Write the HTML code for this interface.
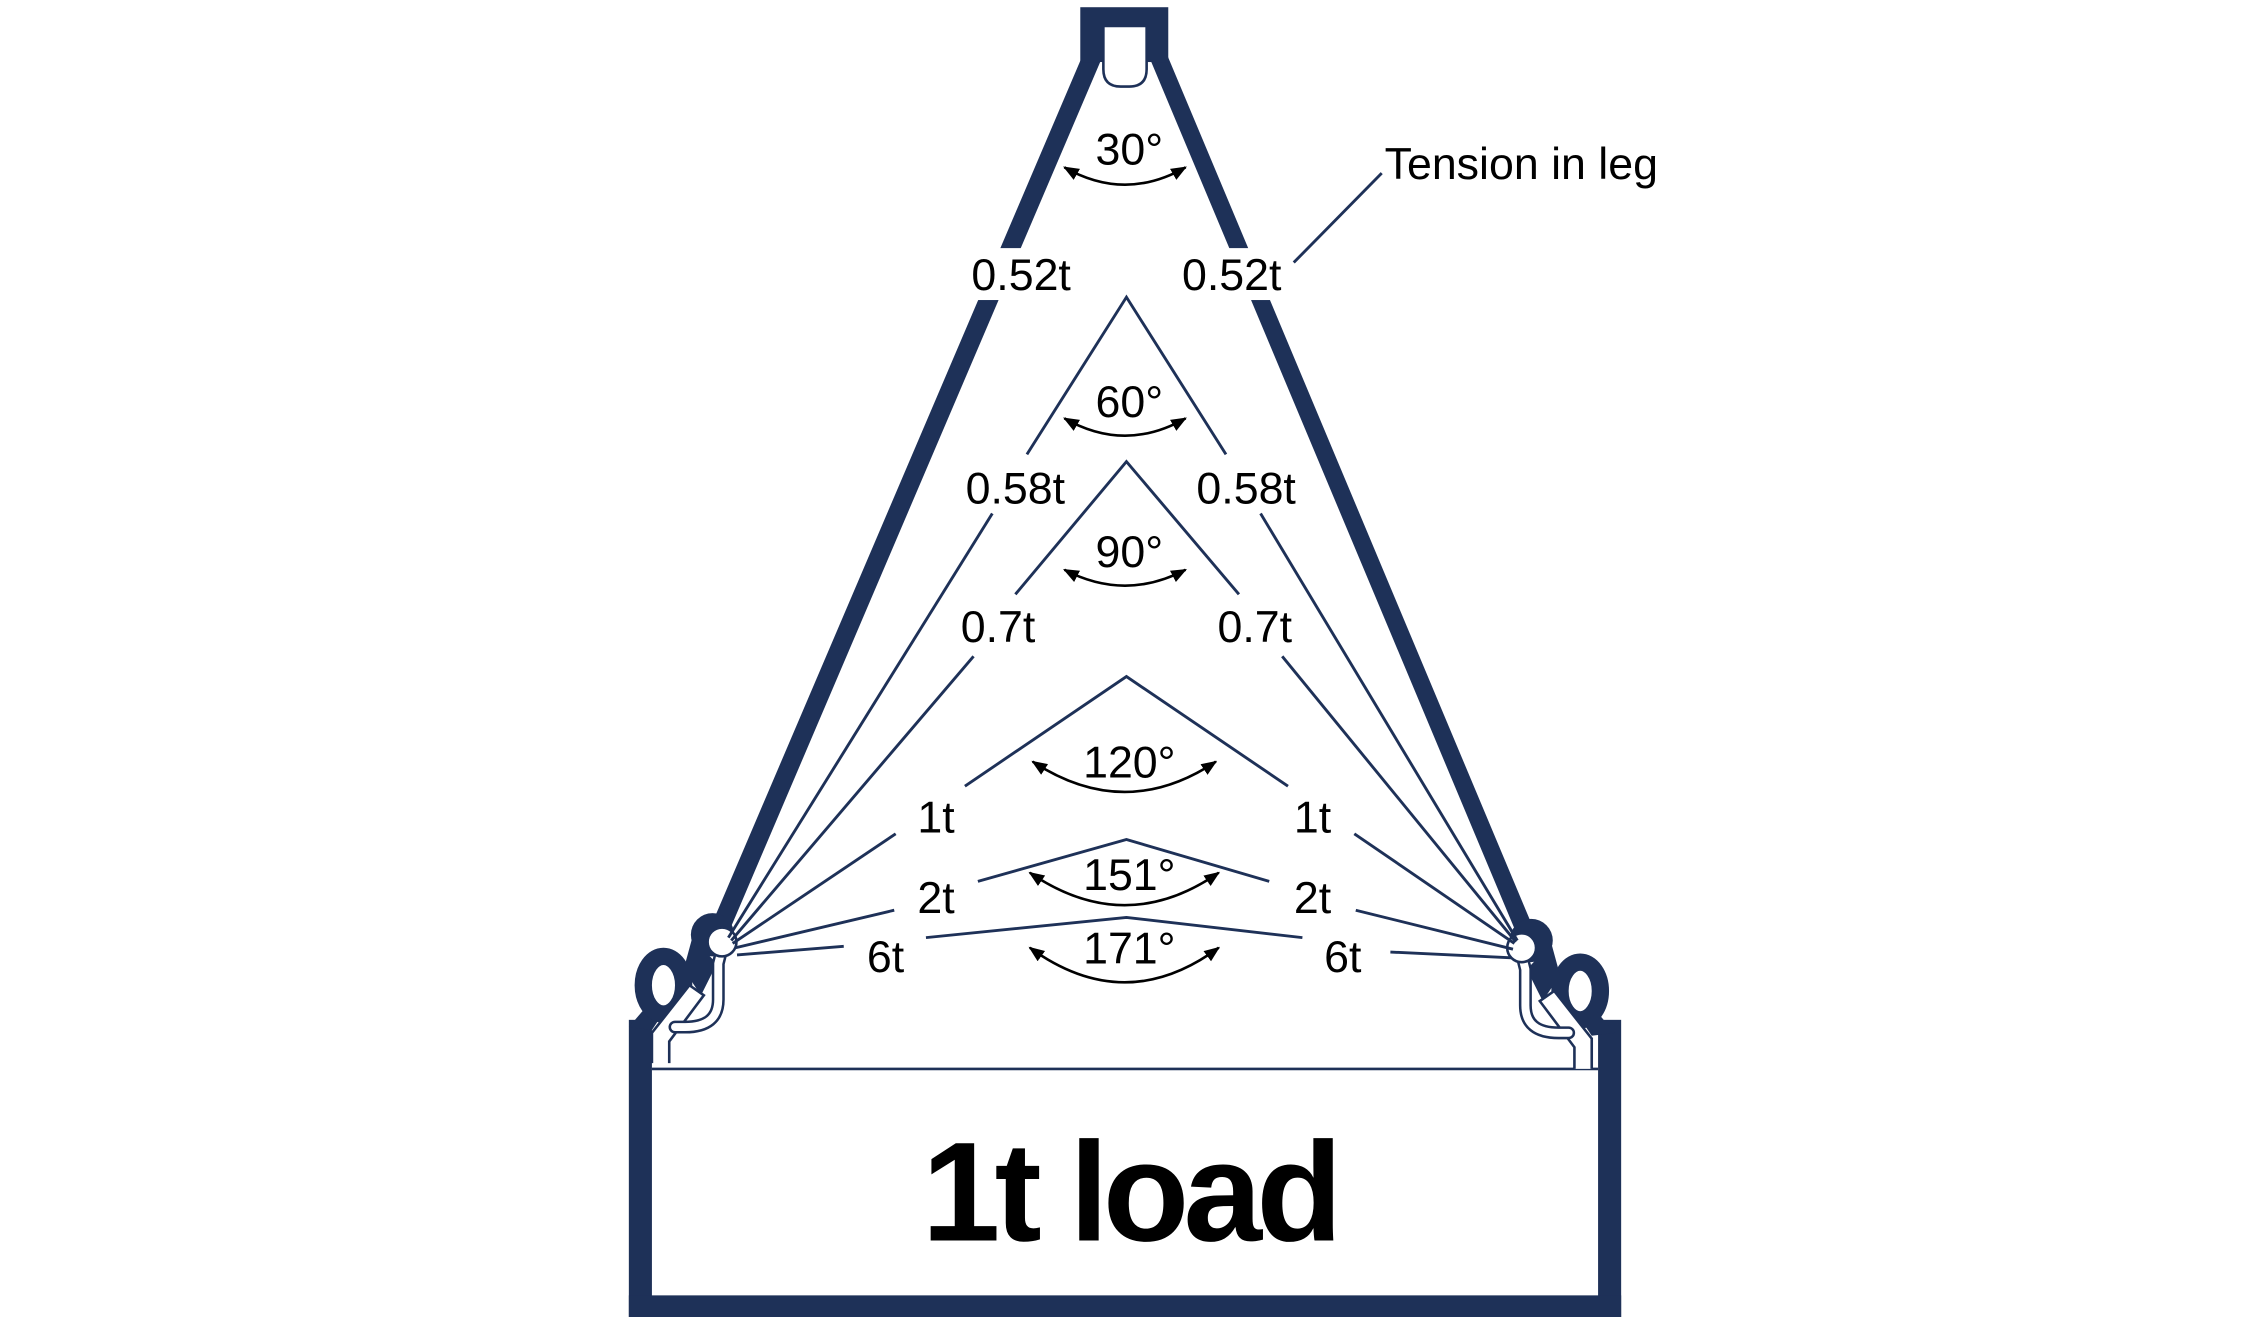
<!DOCTYPE html>
<html><head><meta charset="utf-8"><style>
html,body{margin:0;padding:0;background:#fff;}
svg{display:block;}
text{font-family:"Liberation Sans",sans-serif;fill:#000;}
</style></head><body>
<svg width="2250" height="1317" viewBox="0 0 1560 913" preserveAspectRatio="none" xmlns="http://www.w3.org/2000/svg">
<defs>
<marker id="ah" viewBox="0 0 10 10" refX="9" refY="5" markerWidth="11" markerHeight="11" orient="auto-start-reverse" markerUnits="userSpaceOnUse">
<path d="M0,1 L10,5 L0,9 Z" fill="#000"/>
</marker>
<g id="shackle">
<ellipse cx="460" cy="683" rx="14" ry="20" fill="none" stroke="#1e3158" stroke-width="12"/>
<circle cx="494" cy="648" r="15" fill="#1e3158"/>
<path d="M480,650 L474,672 L486,690 L497,668 Z" fill="#1e3158"/>
<path d="M452,737 L452,716 L478,683 L488,690 L464,722 L464,737" fill="#fff" stroke="#1e3158" stroke-width="1.8"/>
<path d="M500,660 L498,668 L498,693 Q498,712 475,712 L468,712" fill="none" stroke="#1e3158" stroke-width="9" stroke-linecap="round"/>
<path d="M500,660 L498,668 L498,693 Q498,712 475,712 L468,712" fill="none" stroke="#fff" stroke-width="5.5" stroke-linecap="round"/>
<circle cx="500.6" cy="653" r="10" fill="#fff" stroke="#1e3158" stroke-width="1.8"/>
</g>
</defs>

<line x1="757" y1="40" x2="500" y2="642" stroke="#1e3158" stroke-width="13"/>
<line x1="803" y1="40" x2="1058" y2="648" stroke="#1e3158" stroke-width="13"/>
<line x1="797" y1="42" x2="1051" y2="648" stroke="#fff" stroke-width="1.5"/>

<rect x="749" y="5" width="61" height="38" fill="#1e3158"/>
<path d="M765,18 L795,18 L795,48 Q795,60 783,60 L777,60 Q765,60 765,48 Z" fill="#fff" stroke="#1e3158" stroke-width="1.8"/>

<rect x="436" y="707" width="16" height="206" fill="#1e3158"/>
<rect x="1108" y="707" width="16" height="206" fill="#1e3158"/>
<rect x="436" y="898" width="688" height="15" fill="#1e3158"/>
<line x1="452" y1="741" x2="1108" y2="741" stroke="#1e3158" stroke-width="1.8"/>
<path d="M436,712 L448,698 L458,705 L452,714 Z" fill="#1e3158"/>

<use href="#shackle"/>
<g transform="translate(1555.6,4) scale(-1,1)"><use href="#shackle"/>
<path d="M436,712 L448,698 L458,705 L452,714 Z" fill="#1e3158"/></g>

<g stroke="#1e3158" stroke-width="2" fill="none">
<polyline points="712,315 781,206 850,315"/>
<line x1="688" y1="356" x2="505" y2="650"/>
<line x1="874" y1="356" x2="1052" y2="652"/>
<polyline points="704,412 781,320 859,412"/>
<line x1="675" y1="455" x2="507" y2="652"/>
<line x1="889" y1="455" x2="1051" y2="653"/>
<polyline points="669,545 781,469 893,545"/>
<line x1="621" y1="578" x2="508" y2="654"/>
<line x1="939" y1="578" x2="1050" y2="654"/>
<polyline points="678,611 781,582 880,611"/>
<line x1="620" y1="631" x2="510" y2="657"/>
<line x1="940" y1="631" x2="1049" y2="658"/>
<polyline points="642,650 781,636 903,650"/>
<line x1="585" y1="656" x2="511" y2="662"/>
<line x1="964" y1="660" x2="1048" y2="664"/>
<line x1="958" y1="120" x2="897" y2="182"/>
</g>

<g stroke="#000" stroke-width="1.8" fill="none">
<path d="M738,116 Q780,140 822,116" marker-start="url(#ah)" marker-end="url(#ah)"/>
<path d="M738,290 Q780,314 822,290" marker-start="url(#ah)" marker-end="url(#ah)"/>
<path d="M738,395 Q780,417 822,395" marker-start="url(#ah)" marker-end="url(#ah)"/>
<path d="M716,528 Q780,570 843,528" marker-start="url(#ah)" marker-end="url(#ah)"/>
<path d="M714,605 Q780,650 845,605" marker-start="url(#ah)" marker-end="url(#ah)"/>
<path d="M714,657 Q780,705 845,657" marker-start="url(#ah)" marker-end="url(#ah)"/>
</g>

<rect x="668" y="172" width="82" height="36" fill="#fff"/>
<rect x="814" y="172" width="82" height="36" fill="#fff"/>
<g font-size="31" text-anchor="middle">
<text x="708" y="201">0.52t</text>
<text x="854" y="201">0.52t</text>
<text x="960" y="124" text-anchor="start">Tension in leg</text>
<text x="783" y="114">30°</text>
<text x="783" y="289">60°</text>
<text x="704" y="349">0.58t</text>
<text x="864" y="349">0.58t</text>
<text x="783" y="393">90°</text>
<text x="692" y="445">0.7t</text>
<text x="870" y="445">0.7t</text>
<text x="783" y="539">120°</text>
<text x="649" y="577">1t</text>
<text x="910" y="577">1t</text>
<text x="783" y="617">151°</text>
<text x="649" y="633">2t</text>
<text x="910" y="633">2t</text>
<text x="783" y="668">171°</text>
<text x="614" y="674">6t</text>
<text x="931" y="674">6t</text>
</g>
<text x="783" y="860" font-size="98" font-weight="bold" text-anchor="middle" letter-spacing="-4">1t load</text>
</svg>
</body></html>
